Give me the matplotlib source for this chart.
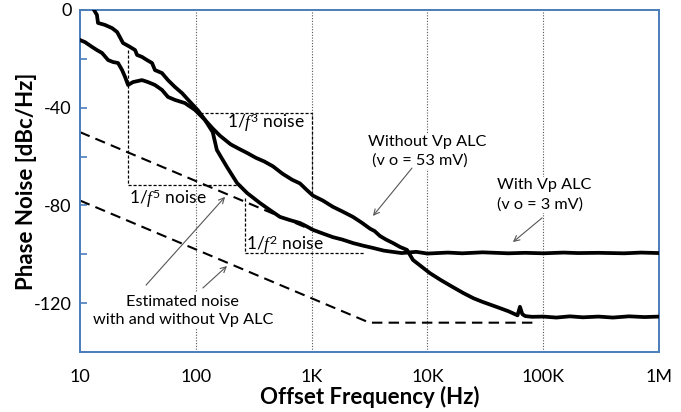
import matplotlib
matplotlib.use("Agg")
import matplotlib.pyplot as plt

# ==== Data (offset frequency in Hz, phase noise in dBc/Hz) ====
# Without Vp ALC (v o = 53 mV)
without_f = [12.9, 14.0, 14.3, 16.4, 18.9, 20.9, 22.1, 23.5, 27.0, 29.9, 31.1, 34.3, 37.9,
             41.9, 44.4, 51, 57.5, 66, 76, 86, 104, 120, 140, 162, 200, 240, 277, 330,
             390, 464, 560, 680, 794, 900, 1028, 1250, 1531, 1850, 2277, 2700, 3192,
             3500, 3892, 4400, 5047, 5800, 6668, 7500, 8600, 10500, 13000, 16000, 20300,
             25000, 30000, 39900, 50000, 60000, 63000, 66000, 70000, 80000, 100000,
             130000, 170000, 220000, 300000, 400000, 550000, 750000, 1000000]
without_db = [0.8, -2.0, -5.3, -6.1, -7.4, -9.0, -11.1, -13.5, -15.1, -16.4, -18.4, -19.2, -20.5,
              -21.7, -24.6, -25.8, -28.7, -31.5, -34.0, -36.8, -41.0, -45.0, -48.5, -51.5, -55.0,
              -57.0, -58.5, -60.5, -62.0, -64.0, -67.0, -69.5, -71.0, -73.5, -76.0, -78.0, -80.6,
              -82.5, -84.7, -87.0, -89.5, -90.5, -92.5, -94.0, -95.4, -97.0, -98.2, -102.3,
              -104.5, -107.7, -110.5, -113.0, -115.8, -118.0, -119.5, -121.6, -123.3, -125.0,
              -121.5, -124.5, -125.3, -125.6, -125.5, -125.9, -125.4, -125.8, -125.5, -125.9,
              -125.4, -125.7, -125.5]

# With Vp ALC (v o = 3 mV)
with_f = [10, 11.0, 12.7, 14.0, 15.5, 17.5, 19.3, 21.3, 23.1, 24.5, 26, 28.7, 34.3, 38.6,
          44.4, 51, 57.5, 66, 80.5, 98.4, 120, 140, 152, 186, 227, 277, 358, 440, 533, 650,
          794, 900, 1028, 1250, 1531, 1850, 2277, 2800, 3388, 4200, 5000, 6000, 8000,
          10000, 15000, 20000, 30000, 50000, 70000, 100000, 150000, 200000, 300000,
          500000, 700000, 1000000]
with_db = [-12.3, -13.1, -15.1, -16.4, -17.6, -20.5, -21.3, -21.7, -24.6, -27.4, -30.7, -29.5,
           -28.7, -29.5, -30.7, -32.7, -35.6, -36.8, -38.1, -40.9, -45.0, -50.0, -57.3, -64.3,
           -70.8, -74.9, -79.0, -82.0, -84.7, -86.0, -87.2, -88.5, -90.0, -91.5, -93.0, -94.0,
           -95.4, -96.5, -97.4, -98.5, -99.0, -99.5, -99.0, -99.7, -99.3, -99.6, -99.2, -99.6,
           -99.4, -99.6, -99.3, -99.5, -99.4, -99.6, -99.3, -99.5]

# Estimated noise (dashed)
est_hi_f = [10, 1000]
est_hi_db = [-50, -90]
est_lo_f = [10, 3162, 90000]
est_lo_db = [-78, -128, -128]

# Slope guide triangles (fine dotted)
tri3_f = [109, 1000, 1000]
tri3_db = [-42.2, -42.2, -75]
tri5_f = [25.8, 25.8, 245]
tri5_db = [-16.4, -71.6, -71.6]
tri2_f = [266, 266, 2890]
tri2_db = [-77, -99.5, -99.5]

x_ticks = [10, 100, 1000, 10000, 100000, 1000000]
x_labels = ["10", "100", "1K", "10K", "100K", "1M"]
y_ticks = [0, -20, -40, -60, -80, -100, -120, -140]
y_labels = ["0", "", "-40", "", "-80", "", "-120", ""]

# ==== Style ====
plt.rcParams["font.family"] = ["Lato", "DejaVu Sans"]
plt.rcParams["mathtext.fontset"] = "custom"
plt.rcParams["mathtext.rm"] = "Lato"
plt.rcParams["mathtext.it"] = "Liberation Serif:italic"

AXIS_BLUE = "#4a7ebb"

fig = plt.figure(figsize=(6.81, 4.12), dpi=100)
ax = fig.add_axes([80 / 681, 1 - 352 / 412, 579 / 681, 342 / 412])

for f in x_ticks[1:-1]:
    ax.axvline(f, color="#555555", lw=0.8, ls=(0, (1, 1.5)), zorder=1)

ax.plot(est_hi_f, est_hi_db, color="black", lw=1.5, dashes=(5, 3), zorder=2)
ax.plot(est_lo_f, est_lo_db, color="black", lw=1.5, dashes=(5, 3), zorder=2)

for tf, tdb in [(tri3_f, tri3_db), (tri5_f, tri5_db), (tri2_f, tri2_db)]:
    ax.plot(tf, tdb, color="black", lw=0.9, dashes=(2.5, 1.5), zorder=2)

ax.plot(without_f, without_db, color="black", lw=2.7, zorder=4, solid_joinstyle="round")
ax.plot(with_f, with_db, color="black", lw=2.7, zorder=4, solid_joinstyle="round")

ax.set_xscale("log")
ax.set_xlim(10, 1e6)
ax.set_ylim(-140, 0)
ax.set_xticks(x_ticks)
ax.set_xticklabels(x_labels)
ax.minorticks_off()
ax.set_yticks(y_ticks)
ax.set_yticklabels(y_labels)
ax.tick_params(axis="x", length=0, pad=12, labelsize=13)
ax.tick_params(axis="y", direction="in", length=5, width=1.2, color=AXIS_BLUE,
               pad=6, labelsize=13)

for sp in ax.spines.values():
    sp.set_color(AXIS_BLUE)
    sp.set_linewidth(1.4)

ax.set_xlabel("Offset Frequency (Hz)", fontsize=16, fontweight="bold", labelpad=1)
ax.set_ylabel("Phase Noise [dBc/Hz]", fontsize=16, fontweight="bold", labelpad=-2)

# ==== Annotations ====
white = dict(facecolor="white", edgecolor="none", pad=1)
ax.text(404, -46.3, r"1/$\mathit{f}^{3}$ noise", fontsize=12.5, ha="center", va="center", zorder=5)
ax.text(57.5, -77.4, r"1/$\mathit{f}^{5}$ noise", fontsize=12.5, ha="center", va="center", zorder=5)
ax.text(589, -96.2, r"1/$\mathit{f}^{2}$ noise", fontsize=12.5, ha="center", va="center", zorder=5)

ax.text(3070, -57.9, "Without Vp ALC\n (v o = 53 mV)", fontsize=11.7, ha="left", va="center",
        linespacing=1.4, bbox=white, zorder=5)
ax.text(39900, -75.7, "With Vp ALC\n(v o = 3 mV)", fontsize=11.7, ha="left", va="center",
        linespacing=1.4, bbox=white, zorder=5)
ax.text(77.4, -123.2, "Estimated noise\nwith and without Vp ALC", fontsize=11.7, ha="center",
        va="center", linespacing=1.4, bbox=white, zorder=5)

arrow = dict(arrowstyle="->", color="#555555", lw=0.8, shrinkA=0, shrinkB=0)
ax.annotate("", xy=(179, -76.5), xytext=(37.2, -112.6), arrowprops=arrow, zorder=5)
ax.annotate("", xy=(186, -104.8), xytext=(115, -113.8), arrowprops=arrow, zorder=5)
ax.annotate("", xy=(3388, -84.3), xytext=(7360, -64.7), arrowprops=arrow, zorder=5)
ax.annotate("", xy=(54800, -95.0), xytext=(97800, -85.1), arrowprops=arrow, zorder=5)

fig.savefig("out.png", dpi=100)
